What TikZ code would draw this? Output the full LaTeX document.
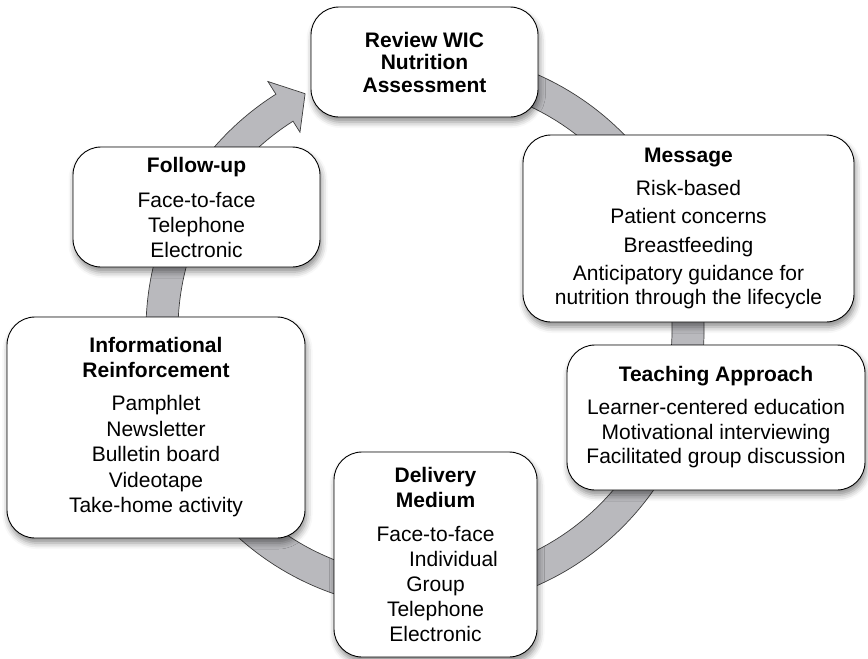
\documentclass[tikz,border=0pt]{standalone}
\usepackage{fontspec}
\setmainfont{Liberation Sans}
\usetikzlibrary{shadows.blur}
\definecolor{ringgrey}{HTML}{B9B9BD}
\definecolor{ringline}{HTML}{3C3C3C}
\tikzset{
	stagebox/.style={draw=black, line width=0.9pt, fill=white, rounded corners=28pt, inner sep=0pt, align=center,
		font=\fontsize{21}{25}\selectfont,
		blur shadow={shadow xshift=1.5pt, shadow yshift=-5pt, shadow blur radius=6pt, shadow opacity=45}},
}
\begin{document}
\begin{tikzpicture}[x=1pt,y=-1pt]
			\useasboundingbox (0,0) rectangle (868,659);
			\begin{scope}[shift={(425,330)}]
				\filldraw[fill=ringgrey, draw=ringline, line width=0.7pt] (-80:279) arc[start angle=-80, end angle=237.7, radius=279] -- (237.7:294) -- (243.1:265) -- (237.7:234) -- (237.7:247) arc[start angle=237.7, end angle=-80, radius=247] -- cycle;
			\end{scope}
			\node (review) at (424.5,62) [stagebox, minimum width=227pt, minimum height=110pt] {\textbf{Review WIC}\\[-2.5pt]\textbf{Nutrition}\\[-2.5pt]\textbf{Assessment}};
			\node (followup) at (196.5,207) [stagebox, minimum width=247pt, minimum height=120pt] {\textbf{Follow-up}\\[10pt]Face-to-face\\Telephone\\Electronic};
			\node (message) at (688.5,228.5) [stagebox, minimum width=331pt, minimum height=187pt] {\textbf{Message}\\[8pt]Risk-based\\[3.5pt]Patient concerns\\[3.5pt]Breastfeeding\\[3.5pt]Anticipatory guidance for\\[-1pt]nutrition through the lifecycle};
			\node (teaching) at (716,417.5) [stagebox, minimum width=298pt, minimum height=145pt] {\textbf{Teaching Approach}\\[8pt]Learner-centered education\\[-0.5pt]Motivational interviewing\\[-0.5pt]Facilitated group discussion};
			\node (inform) at (156,427.5) [stagebox, minimum width=298pt, minimum height=221pt] {\textbf{Informational}\\\textbf{Reinforcement}\\[8pt]Pamphlet\\[0.5pt]Newsletter\\[0.5pt]Bulletin board\\[0.5pt]Videotape\\[0.5pt]Take-home activity};
			\node (delivery) at (435.5,554.5) [stagebox, minimum width=203pt, minimum height=205pt] {\textbf{Delivery}\\\textbf{Medium}\\[9pt]Face-to-face\\\hspace*{36pt}Individual\\Group\\Telephone\\Electronic};
		\end{tikzpicture}
\end{document}
